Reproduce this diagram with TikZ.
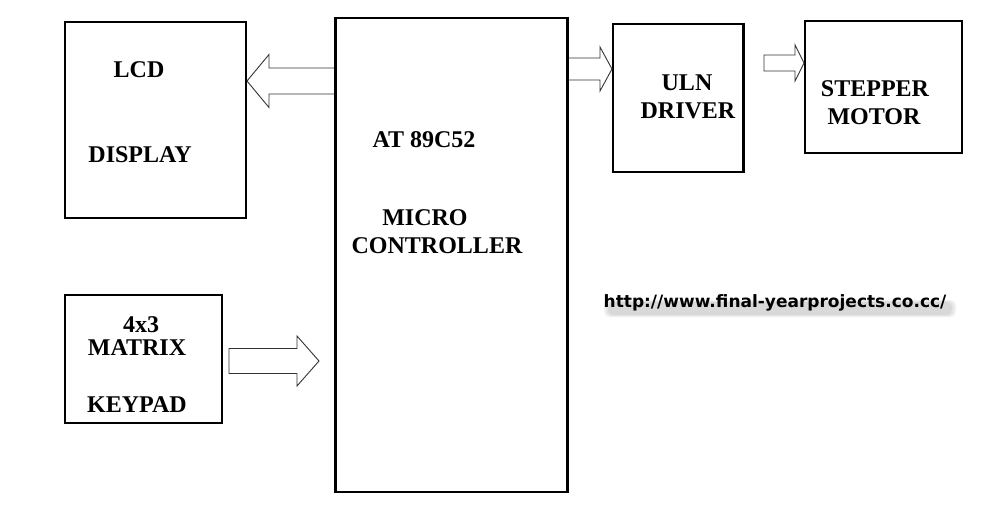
\documentclass[tikz,border=0pt]{standalone}
\usepackage{fontspec}
\setmainfont{Liberation Serif}
\newfontfamily\webfont{DejaVu Sans}
\usetikzlibrary{calc}

% outlined block arrow between two points on one horizontal line
% #1 start, #2 tip, #3 shaft half width, #4 head half width, #5 head length (signed)
\newcommand{\fatarrow}[5]{%
  \draw[fat] let \p1=(#1), \p2=(#2) in
    (\x1,\y1+#3) -- (\x2-#5,\y1+#3) -- (\x2-#5,\y1+#4) -- (\x2,\y1)
    -- (\x2-#5,\y1-#4) -- (\x2-#5,\y1-#3) -- (\x1,\y1-#3) -- cycle;
}

\begin{document}
\begin{tikzpicture}[x=1pt, y=-1pt,
  blk/.style={draw, line width=2pt, inner sep=0pt},
  lbl/.style={font=\fontsize{24}{28}\selectfont\bfseries, inner sep=0pt},
  fat/.style={draw=black!80, fill=white, line width=0.9pt, line join=miter}]
  \useasboundingbox[fill=white] (0,0) rectangle (1005,527);

  % Blocks
  \node[blk, minimum width=181pt, minimum height=196pt] (lcd) at (155.5,120) {};
  \node[blk, minimum width=231pt, minimum height=474pt] (mcu) at (451.5,255) {};
  \node[blk, minimum width=130pt, minimum height=148pt] (uln) at (678,98) {};
  \node[blk, minimum width=157pt, minimum height=132pt] (motor) at (883.5,87) {};
  \node[blk, minimum width=157pt, minimum height=128pt] (keypad) at (143.5,359) {};

  % Labels
  \node[lbl] (lcdA) at (139,70) {LCD};
  \node[lbl] (lcdB) at (140,155) {DISPLAY};
  \node[lbl] (mcuA) at (424,140) {AT 89C52};
  \node[lbl] (mcuB) at (425,218) {MICRO};
  \node[lbl] (mcuC) at (437,246) {CONTROLLER};
  \node[lbl] (ulnA) at (687,83) {ULN};
  \node[lbl] (ulnB) at (688,111) {DRIVER};
  \node[lbl] (motorA) at (875,89) {STEPPER};
  \node[lbl] (motorB) at (874,117) {MOTOR};
  \node[lbl] (keyA) at (141,325) {4x3};
  \node[lbl] (keyB) at (137,348) {MATRIX};
  \node[lbl] (keyC) at (137,405) {KEYPAD};

  % Arrow end points
  \coordinate (lcdS) at (mcu.west |- 0,81);
  \coordinate (lcdT) at (lcd.east |- 0,81);
  \coordinate (ulnS) at (mcu.east |- 0,69);
  \coordinate (ulnT) at (uln.west |- 0,69);
  \coordinate (motorS) at ([xshift=20pt]uln.east |- 0,63);
  \coordinate (motorT) at (motor.west |- 0,63);
  \coordinate (keyS) at ([xshift=6pt]keypad.east |- 0,361);
  \coordinate (keyT) at ([xshift=-16pt]mcu.west |- 0,361);

  % Block arrows
  \fatarrow{lcdS}{lcdT}{13pt}{26.5pt}{-22pt}
  \fatarrow{ulnS}{ulnT}{11pt}{22pt}{12pt}
  \fatarrow{motorS}{motorT}{8pt}{18pt}{9pt}
  \fatarrow{keyS}{keyT}{12.5pt}{25pt}{22pt}

  % Redraw borders over the arrow ends
  \draw[line width=2pt] (mcu.north west) -- (mcu.south west);
  \draw[line width=2pt] (mcu.north east) -- (mcu.south east);
  \draw[line width=2pt] (uln.north east) -- (uln.south east);

  % Web address with a soft shadow
  \foreach \s in {0,2,4}
    \fill[black, opacity=0.05, rounded corners=5pt] (608-\s,302-\s*0.5) rectangle (952+\s,315+\s*0.5);
  \node[font=\webfont\fontsize{17}{20}\selectfont\bfseries, inner sep=0pt] (web) at (775,303) {http://www.final-yearprojects.co.cc/};
\end{tikzpicture}
\end{document}
